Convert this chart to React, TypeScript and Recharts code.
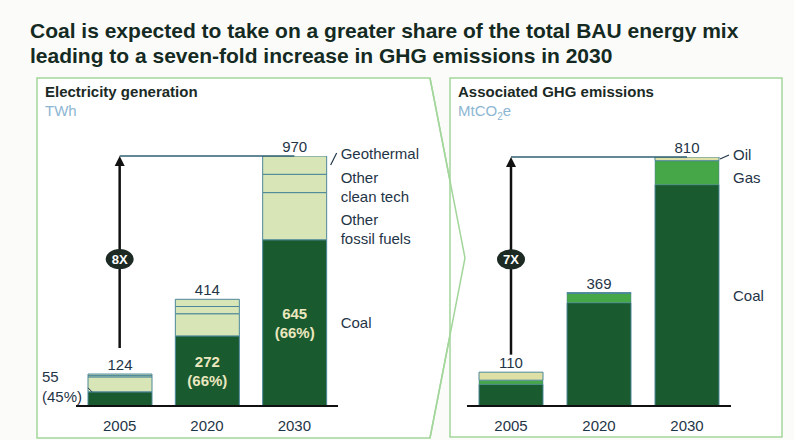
import React from 'react';
import { BarChart, Bar, XAxis, YAxis, LabelList, ReferenceLine, ReferenceDot } from 'recharts';

const years = ['2005', '2020', '2030'];

// Electricity generation, TWh
const coalTwh = [55, 272, 645];
const otherFossilTwh = [58, 86, 183];
const otherCleanTwh = [5, 28, 71];
const geothermalTwh = [6, 28, 71];
const totalTwh = [124, 414, 970];
const coalShare = ['45%', '66%', '66%'];

// Associated GHG emissions, MtCO2e
const coalMt = [71, 336, 720];
const gasMt = [13, 30, 78];
const oilMt = [26, 3, 12];
const totalMt = [110, 369, 810];

const growthLabels = ['8X', '7X'];
const titleLines = [
  'Coal is expected to take on a greater share of the total BAU energy mix',
  'leading to a seven-fold increase in GHG emissions in 2030',
];

const elecRows = years.map((year, i) => ({
  year,
  coal: coalTwh[i],
  fossil: otherFossilTwh[i],
  clean: otherCleanTwh[i],
  geo: geothermalTwh[i],
  total: totalTwh[i],
  share: coalShare[i],
}));

const ghgRows = years.map((year, i) => ({
  year,
  coal: coalMt[i],
  gas: gasMt[i],
  oil: oilMt[i],
  total: totalMt[i],
}));

const COAL = '#195a2f';
const PALE = '#d8e5b7';
const EDGE = '#4c8799';
const GAS = '#46a748';
const OIL = '#dfe0a6';
const TEXT = '#1f3547';
const INNER = '#ebe7bf';
const FRAME = '#a3d69b';
const FONT = '"Liberation Sans", Arial, sans-serif';
const FS = 15;

const vbOf = (p: any) => p.viewBox || p;

// label text placed to the right of the 2030 bar
const sideLabel = (lines: string[], dy: number, anchor: 'top' | 'mid', leader?: 'slash' | 'dash') => (p: any) => {
  if (p.index !== 2) return null;
  const { x, y, width, height } = vbOf(p);
  const right = x + width;
  const tx = right + 14;
  const base = anchor === 'top' ? y + dy : y + height / 2 + dy;
  return (
    <g>
      {leader === 'slash' && <line x1={right + 4} y1={y + 9} x2={right + 10} y2={y - 3} stroke={TEXT} strokeWidth={1.2} />}
      {leader === 'dash' && <line x1={right + 1} y1={y + 2} x2={right + 10} y2={y - 2} stroke={TEXT} strokeWidth={1.2} />}
      {lines.map((t, k) => (
        <text key={k} x={tx} y={base + k * 19} dy="0.35em" fontSize={FS} fill={TEXT} fontFamily={FONT}>
          {t}
        </text>
      ))}
    </g>
  );
};

const coalInner = (p: any) => {
  const { x, y, width, height } = vbOf(p);
  const share = `(${p.value})`;
  const value = coalTwh[p.index];
  if (p.index === 0) {
    return (
      <g fontFamily={FONT} fontSize={FS} fill={TEXT}>
        <line x1={x} y1={y - 4} x2={x + 4} y2={y} stroke={TEXT} strokeWidth={1} />
        <text x={x - 46} y={y - 15} dy="0.35em">{value}</text>
        <text x={x - 46} y={y + 5} dy="0.35em">{share}</text>
      </g>
    );
  }
  const cx = x + width / 2;
  const cy = y + height / 2;
  return (
    <g fontFamily={FONT} fontSize={FS} fontWeight="bold" fill={INNER} textAnchor="middle">
      <text x={cx} y={cy - 9} dy="0.35em">{value}</text>
      <text x={cx} y={cy + 10} dy="0.35em">{share}</text>
    </g>
  );
};

const Arrow = (p: any) => {
  const { x1, y1, x2, y2 } = p;
  return (
    <g>
      <line x1={x1} y1={y1} x2={x2} y2={y2 + 6} stroke="#111" strokeWidth={2.5} />
      <polygon points={`${x2},${y2} ${x2 - 5},${y2 + 10} ${x2 + 5},${y2 + 10}`} fill="#111" />
    </g>
  );
};

const badge = (label: string) => (p: any) => (
  <g>
    <ellipse cx={p.cx} cy={p.cy} rx={14} ry={10} fill="#1c2a23" />
    <text x={p.cx} y={p.cy} dy="0.35em" textAnchor="middle" fontSize={13} fontWeight="bold" fill="#fff" fontFamily={FONT}>
      {label}
    </text>
  </g>
);

const xAxisProps = {
  dataKey: 'year',
  tickLine: false,
  axisLine: { stroke: '#111', strokeWidth: 2 },
  tick: { fill: TEXT, fontSize: FS, fontFamily: FONT },
  tickMargin: 8,
  height: 34,
};

export default function App() {
  return (
    <div style={{ position: 'absolute', left: 0, top: 0, width: 794, height: 440, background: '#fbfcfa', fontFamily: FONT }}>
      <svg width={794} height={440} style={{ position: 'absolute', left: 0, top: 0 }}>
        <polygon points="37,78 430,78 465,258 430,438 37,438" fill="#fff" stroke={FRAME} strokeWidth={1.5} />
        <rect x={450} y={78} width={332} height={359} fill="#fff" stroke={FRAME} strokeWidth={1.5} />
        <polyline points="430,78 465,258 430,438" fill="none" stroke={FRAME} strokeWidth={1.5} />
        {titleLines.map((t, i) => (
          <text key={i} x={30} y={38 + i * 25} fontSize={21} fontWeight="bold" fill="#142a22">
            {t}
          </text>
        ))}
        <text x={45} y={97} fontSize={15} fontWeight="bold" fill="#1b2a25">Electricity generation</text>
        <text x={45} y={116} fontSize={15} fill="#8db6d3">TWh</text>
        <text x={458} y={97} fontSize={15} fontWeight="bold" fill="#1b2a25">Associated GHG emissions</text>
        <text x={458} y={116} fontSize={15} fill="#8db6d3">
          MtCO<tspan fontSize={10} dy={4}>2</tspan><tspan dy={-4}>e</tspan>
        </text>
      </svg>

      <div style={{ position: 'absolute', left: 0, top: 0 }}>
        <BarChart width={440} height={440} data={elecRows} margin={{ top: 156, right: 102, bottom: 0, left: 76 }} barSize={64}>
          <XAxis {...xAxisProps} />
          <YAxis hide domain={[0, 970]} allowDataOverflow />
          <Bar dataKey="coal" stackId="e" fill={COAL} stroke={EDGE} isAnimationActive={false}>
            <LabelList dataKey="share" content={coalInner} />
            <LabelList dataKey="coal" content={sideLabel(['Coal'], 0, 'mid')} />
          </Bar>
          <Bar dataKey="fossil" stackId="e" fill={PALE} stroke={EDGE} isAnimationActive={false}>
            <LabelList dataKey="fossil" content={sideLabel(['Other', 'fossil fuels'], 27, 'top')} />
          </Bar>
          <Bar dataKey="clean" stackId="e" fill={PALE} stroke={EDGE} isAnimationActive={false}>
            <LabelList dataKey="clean" content={sideLabel(['Other', 'clean tech'], 3, 'top')} />
          </Bar>
          <Bar dataKey="geo" stackId="e" fill={PALE} stroke={EDGE} isAnimationActive={false}>
            <LabelList dataKey="geo" content={sideLabel(['Geothermal'], -2, 'top', 'slash')} />
            <LabelList dataKey="total" position="top" offset={4} fill={TEXT} fontSize={FS} fontFamily={FONT} />
          </Bar>
          <ReferenceLine segment={[{ x: '2005', y: 970 }, { x: '2030', y: 970 }]} stroke="#2f5f70" strokeWidth={1.5} />
          <ReferenceLine segment={[{ x: '2005', y: 225 }, { x: '2005', y: 970 }]} shape={Arrow} />
          <ReferenceDot x="2005" y={570} shape={badge(growthLabels[0])} />
        </BarChart>
      </div>

      <div style={{ position: 'absolute', left: 440, top: 0 }}>
        <BarChart width={354} height={440} data={ghgRows} margin={{ top: 157, right: 63, bottom: 0, left: 27 }} barSize={64}>
          <XAxis {...xAxisProps} />
          <YAxis hide domain={[0, 810]} allowDataOverflow />
          <Bar dataKey="coal" stackId="g" fill={COAL} stroke={EDGE} isAnimationActive={false}>
            <LabelList dataKey="coal" content={sideLabel(['Coal'], 0, 'mid')} />
          </Bar>
          <Bar dataKey="gas" stackId="g" fill={GAS} stroke={EDGE} strokeWidth={0.5} isAnimationActive={false}>
            <LabelList dataKey="gas" content={sideLabel(['Gas'], 5, 'mid')} />
          </Bar>
          <Bar dataKey="oil" stackId="g" fill={OIL} stroke={EDGE} isAnimationActive={false}>
            <LabelList dataKey="oil" content={sideLabel(['Oil'], -2, 'top', 'dash')} />
            <LabelList dataKey="total" position="top" offset={4} fill={TEXT} fontSize={FS} fontFamily={FONT} />
          </Bar>
          <ReferenceLine segment={[{ x: '2005', y: 810 }, { x: '2030', y: 810 }]} stroke="#2f5f70" strokeWidth={1.5} />
          <ReferenceLine segment={[{ x: '2005', y: 167 }, { x: '2005', y: 810 }]} shape={Arrow} />
          <ReferenceDot x="2005" y={477} shape={badge(growthLabels[1])} />
        </BarChart>
      </div>
    </div>
  );
}
